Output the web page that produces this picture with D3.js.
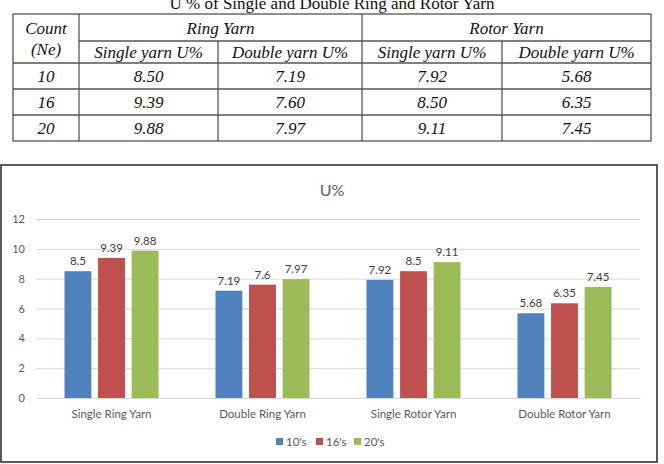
<!DOCTYPE html>
<html>
<head>
<meta charset="utf-8">
<script src="https://cdn.jsdelivr.net/npm/d3@7"></script>
<style>
  body { margin: 0; background: #fff; }
  svg { display: block; }
</style>
</head>
<body>
<div id="chart"></div>
<script>
const tableTitle = "U % of Single and Double Ring and Rotor Yarn"
const chartTitle = "U%"
const counts = ["10", "16", "20"]
const categories = ["Single Ring Yarn", "Double Ring Yarn", "Single Rotor Yarn", "Double Rotor Yarn"]
const seriesNames = ["10's", "16's", "20's"]
const u10 = [8.50, 7.19, 7.92, 5.68]
const u16 = [9.39, 7.60, 8.50, 6.35]
const u20 = [9.88, 7.97, 9.11, 7.45]
const yTicks = [0, 2, 4, 6, 8, 10, 12]
const groupHeads = ["Ring Yarn", "Rotor Yarn"]
const subHeads = ["Single yarn U%", "Double yarn U%", "Single yarn U%", "Double yarn U%"]

const COLORS = ["#4f81bd", "#c0504d", "#9bbb59"]
const seriesValues = [u10, u16, u20]

var svg = d3.select("#chart").append("svg").attr("width", 664).attr("height", 464)

// ---- table ----
var serif = "'Liberation Serif', 'DejaVu Serif', serif"
var tb = { left: 13, right: 651, top: 14, mid: 41, head: 63, rows: [63, 89, 115, 141] }
var colX = [13, 79, 218, 362, 502, 651]

svg.append("text").attr("x", 332).attr("y", 9).attr("text-anchor", "middle")
    .style("font-family", serif).style("font-size", "17px").attr("fill", "#111")
    .text(tableTitle)

var tg = svg.append("g").attr("stroke", "#555").attr("stroke-width", 1.3)
tg.append("rect").attr("x", tb.left).attr("y", tb.top).attr("width", tb.right - tb.left)
    .attr("height", tb.rows[3] - tb.top).attr("fill", "none")
tg.append("line").attr("x1", colX[1]).attr("x2", tb.right).attr("y1", tb.mid).attr("y2", tb.mid)
tb.rows.slice(0, 3).forEach(y => {
    tg.append("line").attr("x1", tb.left).attr("x2", tb.right).attr("y1", y).attr("y2", y)
})
colX.slice(1, 5).forEach((x, i) => {
    var y1 = (i == 0 || i == 2) ? tb.top : tb.mid
    tg.append("line").attr("x1", x).attr("x2", x).attr("y1", y1).attr("y2", tb.rows[3])
})

function cell(x, y, txt) {
    svg.append("text").attr("x", x).attr("y", y).attr("text-anchor", "middle")
        .style("font-family", serif).style("font-style", "italic").style("font-size", "17px")
        .attr("fill", "#111").text(txt)
}
cell((colX[0] + colX[1]) / 2, 34, "Count")
cell((colX[0] + colX[1]) / 2, 55, "(Ne)")
cell((colX[1] + colX[3]) / 2, 34, groupHeads[0])
cell((colX[3] + colX[5]) / 2, 34, groupHeads[1])
subHeads.forEach((h, i) => cell((colX[i + 1] + colX[i + 2]) / 2, 58, h))
counts.forEach((c, r) => {
    var y = tb.rows[r] + 19
    cell((colX[0] + colX[1]) / 2, y, c)
    seriesValues[r].forEach((v, i) => cell((colX[i + 1] + colX[i + 2]) / 2, y, v.toFixed(2)))
})

// ---- chart ----
var sans = "Lato, 'Open Sans', sans-serif"
svg.append("rect").attr("x", 1).attr("y", 165).attr("width", 656).attr("height", 297)
    .attr("fill", "#fff").attr("stroke", "#333").attr("stroke-width", 1.6)

svg.append("text").attr("x", 332).attr("y", 196).attr("text-anchor", "middle")
    .style("font-family", sans).style("font-size", "16px").attr("fill", "#595959").text(chartTitle)

var x0 = d3.scaleBand().domain(categories).range([36, 640])
var x1 = d3.scaleBand().domain(seriesNames).range([-47, 47]).paddingInner(0.2)
var y = d3.scaleLinear().domain([0, 12]).range([398, 219])

var yAxis = svg.append("g").attr("transform", "translate(36,0)")
    .call(d3.axisLeft(y).tickValues(yTicks).tickSize(-604).tickPadding(11))
yAxis.select(".domain").remove()
yAxis.selectAll(".tick line").attr("stroke", "#d9d9d9")
yAxis.selectAll(".tick text").attr("fill", "#595959")
    .style("font-family", sans).style("font-size", "11px")

var groups = svg.append("g").selectAll("g").data(categories).enter().append("g")
    .attr("transform", d => "translate(" + (x0(d) + x0.bandwidth() / 2) + ",0)")

groups.each(function(cat, ci) {
    var g = d3.select(this)
    seriesNames.forEach((s, si) => {
        var v = seriesValues[si][ci]
        g.append("rect").attr("x", x1(s)).attr("width", x1.bandwidth())
            .attr("y", y(v)).attr("height", y(0) - y(v)).attr("fill", COLORS[si])
        g.append("text").attr("x", x1(s) + x1.bandwidth() / 2).attr("y", y(v) - 6)
            .attr("text-anchor", "middle").style("font-family", sans).style("font-size", "11.5px")
            .attr("fill", "#404040").text(String(v))
    })
})

var xAxis = svg.append("g").attr("transform", "translate(0,398)")
    .call(d3.axisBottom(x0).tickSize(0).tickPadding(12))
xAxis.select(".domain").attr("stroke", "#d9d9d9")
xAxis.selectAll(".tick text").attr("fill", "#595959")
    .style("font-family", sans).style("font-size", "11.5px")

// legend
var legX = [276, 316, 354]
var leg = svg.append("g").selectAll("g").data(seriesNames).enter().append("g")
    .attr("transform", (d, i) => "translate(" + legX[i] + ",438)")
leg.append("rect").attr("width", 7).attr("height", 7).attr("fill", (d, i) => COLORS[i])
leg.append("text").attr("x", 10).attr("y", 7.5).style("font-family", sans).style("font-size", "11.5px")
    .attr("fill", "#595959").text(d => d)
</script>
</body>
</html>
